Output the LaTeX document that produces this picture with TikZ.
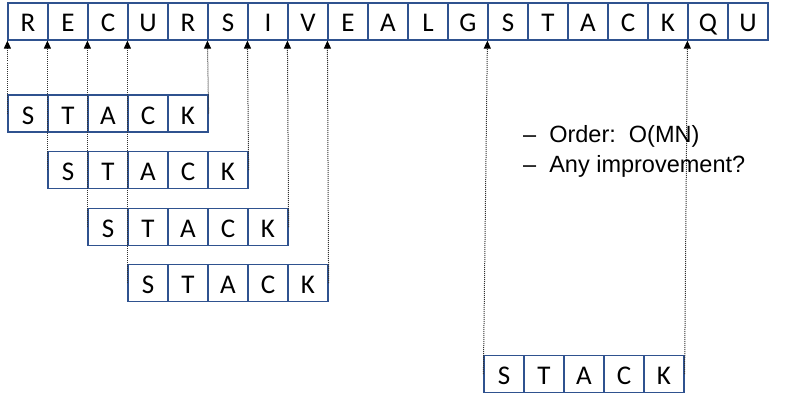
\documentclass[tikz,border=0pt]{standalone}
\usepackage{fontspec}
\usepackage{tikz}
\usetikzlibrary{positioning,arrows.meta}
\newfontfamily\cellfont{Carlito}
\newfontfamily\notefont{Liberation Sans}
\definecolor{cellblue}{RGB}{47,82,143}
\definecolor{linkgray}{RGB}{50,50,50}

\begin{document}
\begin{tikzpicture}[x=1pt,y=-1pt,
  cell/.style={draw=cellblue,line width=1.2pt,minimum width=40pt,minimum height=37pt,inner sep=0pt,
    text height=21pt,text depth=0pt,font=\cellfont\fontsize{27}{27}\selectfont},
  link/.style={densely dotted,draw=linkgray,line width=1pt,arrows={-Triangle[length=8pt,width=7pt,fill=black,black]}},
  note/.style={anchor=base west,inner sep=0pt,font=\notefont\fontsize{23.5}{28}\selectfont}]
\useasboundingbox (0,0) rectangle (791,404);
% text row
\foreach \ch [count=\i from 0] in {R,E,C,U,R,S,I,V,E,A,L,G,S,T,A,C,K,Q,U}
  \node[cell] (t\i) at (28+40*\i,21.5) {\ch};
% pattern at each shift
\foreach \sx/\sy/\n in {28/113.5/1,68/170/2,108/227/3,148/283/4,504/374/5}
  \foreach \ch [count=\j from 0] in {S,T,A,C,K}
    \node[cell] (s\n\j) at (\sx+40*\j,\sy) {\ch};
\draw[link] (s10.west) -- (t0.south west);
\draw[link] (s14.east) -- (t5.south west);
\draw[link] (s20.west) -- (t1.south west);
\draw[link] (s24.east) -- (t6.south west);
\draw[link] (s30.west) -- (t2.south west);
\draw[link] (s34.east) -- (t7.south west);
\draw[link] (s40.west) -- (t3.south west);
\draw[link] (s44.east) -- (t8.south west);
\draw[link] (s50.west) -- (t12.south west);
\draw[link] (s54.east) -- (t17.south west);
\node[note] (order) at (523,142) {–\hspace{13pt}Order:\ \ O(MN)};
\node[note] (improve) at (523,172) {–\hspace{13pt}Any improvement?};
\end{tikzpicture}
\end{document}
